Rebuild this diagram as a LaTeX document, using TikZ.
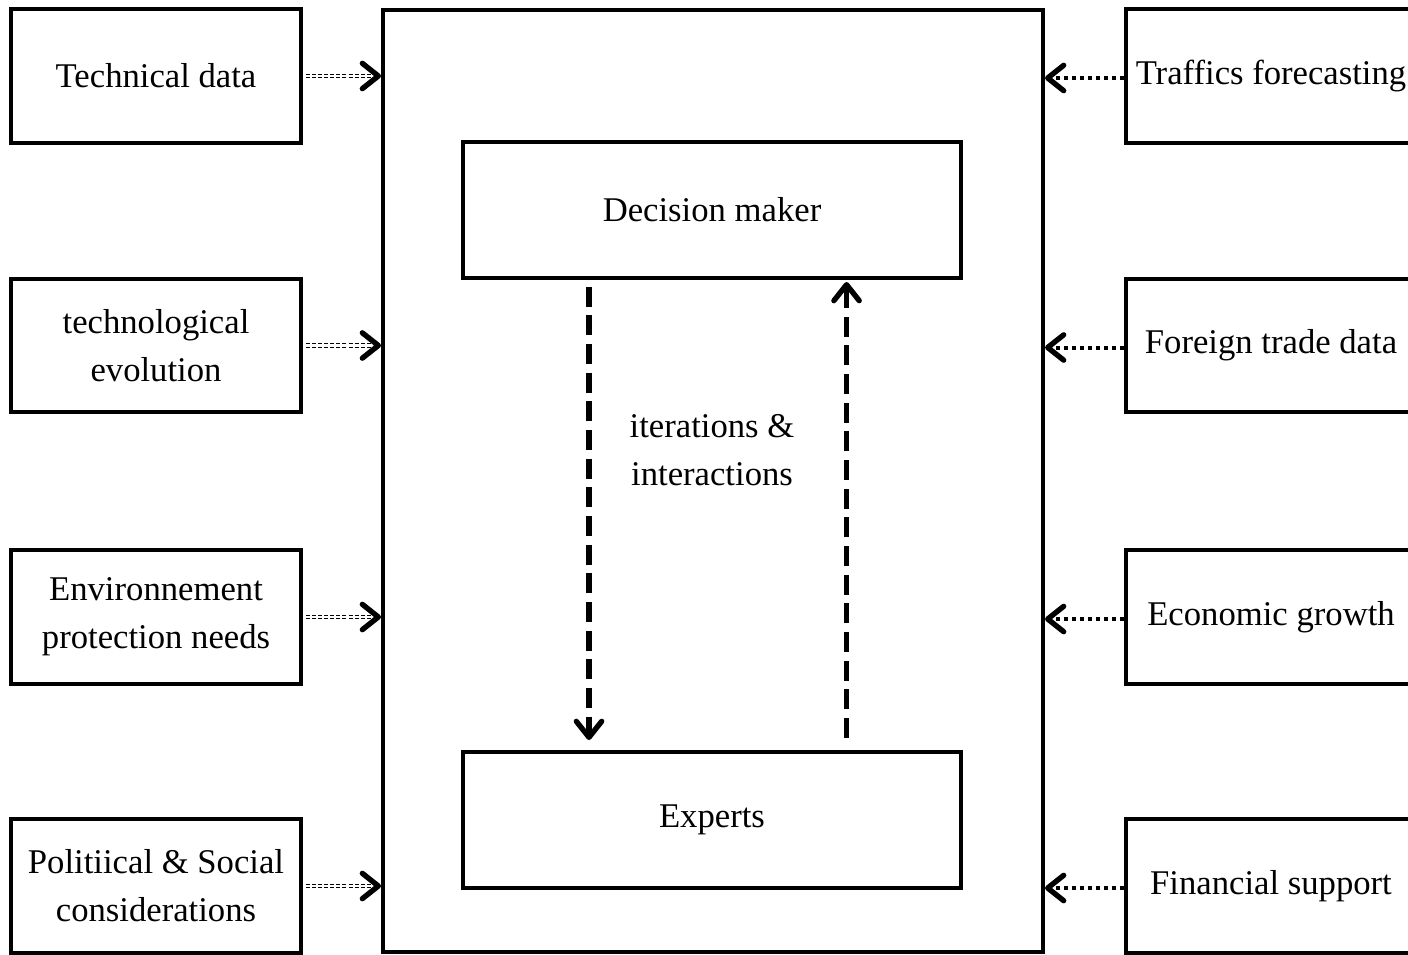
\documentclass[tikz,border=0pt]{standalone}
\usepackage{fontspec}
\setmainfont{Liberation Serif}
\usetikzlibrary{arrows.meta,calc}
\begin{document}
\begin{tikzpicture}[x=0.75pt, y=-0.75pt, every node/.style={font=\fontsize{26}{36}\selectfont, align=center},
  box/.style={draw, line width=3pt, minimum width=217.5pt, minimum height=100pt},
  rolebox/.style={draw, line width=3pt, minimum width=373.5pt, minimum height=102pt},
  barb/.style={-{Straight Barb[length=12pt, width=19pt, line width=4pt, round]}},
  feedarrow/.style={barb, double, double distance=1.6pt, line width=1pt, dash pattern=on 3pt off 1.6pt, shorten <=2pt},
  inputarrow/.style={barb, line width=3pt, dash pattern=on 3pt off 3pt},
  iterarrow/.style={barb, line width=4pt, dash pattern=on 15pt off 6.5pt}]
\useasboundingbox (0,0) rectangle (1408,955); \clip (0,0) rectangle (1408,955);
\node[draw, line width=3pt, minimum width=495pt, minimum height=706.5pt] (studio) at (713,481) {};
\node[rolebox] (dm) at (712,210) {Decision maker};
\node[rolebox] (ex) at (712,820) {Experts};
\node (iter) at (712,450) {iterations \&\\interactions};
\node[box] (tech) at (156,76) {Technical data};
\node[box] (evol) at (156,345.5) {technological\\evolution};
\node[box] (env) at (156,617) {Environnement\\protection needs};
\node[box] (pol) at (156,886) {Politiical \& Social\\considerations};
\node[box] (traffic) at (1271,76) {Traffics forecasting};
\node[box] (trade) at (1271,345.5) {Foreign trade data};
\node[box] (growth) at (1271,617) {Economic growth};
\node[box] (fin) at (1271,886) {Financial support};
\foreach \n in {tech,evol,env,pol} \draw[feedarrow] (\n.east) -- (\n.east -| studio.west);
\foreach \n in {traffic,trade,growth,fin} \draw[inputarrow] ([yshift=-1.5pt]\n.west) -- ([yshift=-1.5pt]\n.west -| studio.east);
\draw[iterarrow, shorten <=5pt, shorten >=7.5pt] ($(dm.south west)!.255!(dm.south east)$) -- ($(ex.north west)!.255!(ex.north east)$);
\draw[iterarrow, shorten <=9pt, shorten >=1.5pt] ($(ex.north west)!.768!(ex.north east)$) -- ($(dm.south west)!.768!(dm.south east)$);
\end{tikzpicture}
\end{document}
